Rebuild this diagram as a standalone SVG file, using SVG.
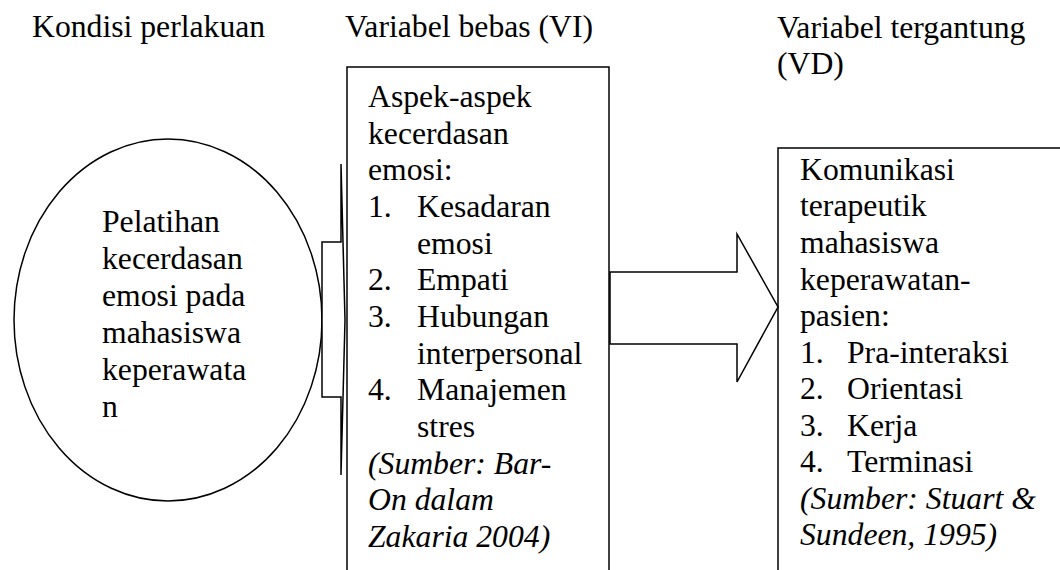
<svg xmlns="http://www.w3.org/2000/svg" width="1060" height="570" viewBox="0 0 1060 570">
<style>
.t{font-family:'Liberation Serif','Times New Roman',Times,serif;font-size:31.7px;fill:#000}
.i{font-style:italic}
.s{fill:#fff;stroke:#000;stroke-width:1.5}
</style>
<rect width="1060" height="570" fill="#fff"/>
<g id="headers">
<text class="t" x="32" y="37">Kondisi perlakuan</text>
<text class="t" x="345" y="37">Variabel bebas (VI)</text>
<text class="t" x="777" y="38">Variabel tergantung</text>
<text class="t" x="777" y="74">(VD)</text>
</g>
<g id="node-pelatihan">
<ellipse class="s" cx="168" cy="320" rx="154" ry="181"/>
<text class="t" x="102" y="232">Pelatihan</text>
<text class="t" x="102" y="269">kecerdasan</text>
<text class="t" x="102" y="306">emosi pada</text>
<text class="t" x="102" y="343">mahasiswa</text>
<text class="t" x="102" y="380">keperawata</text>
<text class="t" x="102" y="417">n</text>
</g>
<g id="node-vi">
<rect class="s" x="347" y="67" width="262" height="520"/>
<text class="t" x="368" y="107">Aspek-aspek</text>
<text class="t" x="368" y="144">kecerdasan</text>
<text class="t" x="368" y="180">emosi:</text>
<text class="t" x="368" y="217">1.</text><text class="t" x="417" y="217">Kesadaran</text>
<text class="t" x="417" y="254">emosi</text>
<text class="t" x="368" y="290">2.</text><text class="t" x="417" y="290">Empati</text>
<text class="t" x="368" y="327">3.</text><text class="t" x="417" y="327">Hubungan</text>
<text class="t" x="417" y="364">interpersonal</text>
<text class="t" x="368" y="400">4.</text><text class="t" x="417" y="400">Manajemen</text>
<text class="t" x="417" y="437">stres</text>
<text class="t i" x="368" y="474">(Sumber: Bar-</text>
<text class="t i" x="368" y="510">On dalam</text>
<text class="t i" x="368" y="547">Zakaria 2004)</text>
</g>
<g id="node-vd">
<rect class="s" x="778" y="148" width="300" height="440"/>
<text class="t" x="800" y="180">Komunikasi</text>
<text class="t" x="800" y="216">terapeutik</text>
<text class="t" x="800" y="253">mahasiswa</text>
<text class="t" x="800" y="290">keperawatan-</text>
<text class="t" x="800" y="326">pasien:</text>
<text class="t" x="800" y="363">1.</text><text class="t" x="847" y="363">Pra-interaksi</text>
<text class="t" x="800" y="399">2.</text><text class="t" x="847" y="399">Orientasi</text>
<text class="t" x="800" y="436">3.</text><text class="t" x="847" y="436">Kerja</text>
<text class="t" x="800" y="472">4.</text><text class="t" x="847" y="472">Terminasi</text>
<text class="t i" x="800" y="509">(Sumber: Stuart &amp;</text>
<text class="t i" x="800" y="545">Sundeen, 1995)</text>
</g>
<g id="connectors">
<polygon class="s" points="322,242 341,242 341,164 345,320 341,475 341,397 322,397"/>
<polygon class="s" points="610,272 737,272 737,234 778,307 737,382 737,344 610,344"/>
</g>
</svg>
